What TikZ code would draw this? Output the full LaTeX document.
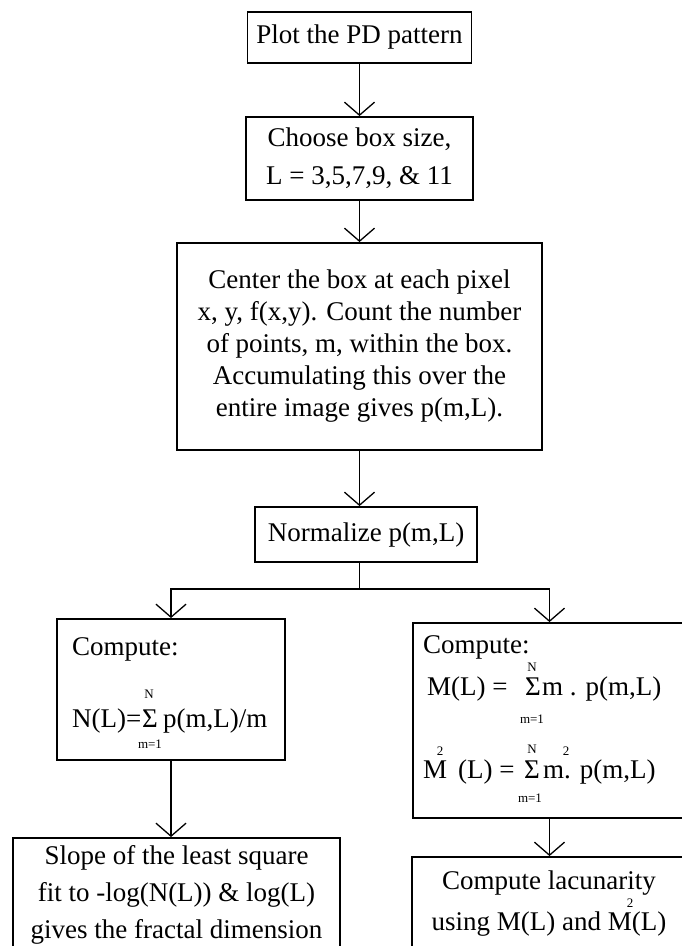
\documentclass[tikz,border=0pt]{standalone}
\usepackage{fontspec}
\setmainfont{Liberation Serif}
\usetikzlibrary{arrows.meta,calc}
\tikzset{
  box/.style={draw, line width=1.9pt, inner sep=0pt, align=center, font=\fontsize{27}{32}\selectfont},
  txt/.style={inner sep=0pt, font=\fontsize{27}{32}\selectfont},
  lim/.style={inner sep=0pt, font=\fontsize{13}{13}\selectfont},
  arr/.style={line width=1.3pt, -{Straight Barb[length=13pt,width=30pt]}},
  con/.style={line width=1.3pt},
}
\begin{document}
\begin{tikzpicture}[x=1pt,y=-1pt]
\clip (0,0) rectangle (682,946);
\fill[white] (0,0) rectangle (682,946);
% boxes
\node[box, minimum width=224pt, minimum height=51pt] (b1) at (359.5,37.5) {Plot the PD pattern};
\node[box, minimum width=227pt, minimum height=83pt, font=\fontsize{27}{38}\selectfont] (b2) at (359.5,158.5) {Choose box size,\\ L = 3,5,7,9, \& 11};
\node[box, minimum width=365pt, minimum height=207pt] (b3) at (359.5,346.5) {Center the box at each pixel\\ x, y, f(x,y). Count the number\\ of points, m, within the box.\\ Accumulating this over the\\ entire image gives p(m,L).};
\node[box, minimum width=222pt, minimum height=55pt] (norm) at (366,534.5) {Normalize p(m,L)};
\node[box, minimum width=228pt, minimum height=141pt] (lc) at (171,689.5) {};
\node[box, minimum width=273pt, minimum height=195pt] (rc) at (549.5,720.5) {};
\node[box, minimum width=327pt, minimum height=114pt, font=\fontsize{27}{37}\selectfont] (sl) at (176.5,895) {Slope of the least square\\ fit to -log(N(L)) \& log(L)\\ gives the fractal dimension};
\node[box, minimum width=274pt, minimum height=93pt, font=\fontsize{27}{41}\selectfont] (lac) at (549,903.5) {Compute lacunarity\\ using M(L) and M\rlap{\kern-5pt\raisebox{23pt}{\fontsize{13}{13}\selectfont 2}}(L)};
% left compute text
\node[txt, anchor=base west] (lcT) at (72,655) {Compute:};
\node[txt, anchor=base west] (lcA) at (72,727) {N(L)=};
\node[txt, anchor=base] (lcS) at (150,727) {Σ};
\node[txt, anchor=base west] (lcB) at (163,727) {p(m,L)/m};
\node[lim, anchor=base] (lcN) at (149,698) {N};
\node[lim, anchor=base] (lcM) at (150,748) {m=1};
% right compute text
\node[txt, anchor=base west] (rcT) at (423,653) {Compute:};
\node[txt, anchor=base west] (rc1a) at (427,695) {M(L) =};
\node[txt, anchor=base] (rc1s) at (533,695) {Σ};
\node[txt, anchor=base west] (rc1b) at (542,695) {m . p(m,L)};
\node[lim, anchor=base] (rc1n) at (532,671) {N};
\node[lim, anchor=base] (rc1m) at (532,723) {m=1};
\node[txt, anchor=base west] (rc2a) at (423,778) {M};
\node[lim, anchor=base] (rc2e) at (440,755) {2};
\node[txt, anchor=base west] (rc2b) at (458,778) {(L) =};
\node[txt, anchor=base] (rc2s) at (532,778) {Σ};
\node[txt, anchor=base west] (rc2c) at (543,778) {m};
\node[lim, anchor=base] (rc2f) at (566,755) {2};
\node[txt, anchor=base west] (rc2d) at (564,778) {. p(m,L)};
\node[lim, anchor=base] (rc2n) at (532,753) {N};
\node[lim, anchor=base] (rc2m) at (530,802) {m=1};
% connectors
\draw[arr] (b1.south) -- (b2.north);
\draw[arr] (b2.south) -- (b3.north);
\draw[arr] (b3.south) -- (b3.south |- norm.north);
\draw[con] (b3.south |- norm.south) -- ++(0,26) coordinate (split);
\draw[arr] (split) -| (lc.north);
\draw[arr] (split) -| (rc.north);
\draw[arr] (lc.south) -- (lc.south |- sl.north);
\draw[arr] (rc.south) -- (rc.south |- lac.north);
\end{tikzpicture}
\end{document}
